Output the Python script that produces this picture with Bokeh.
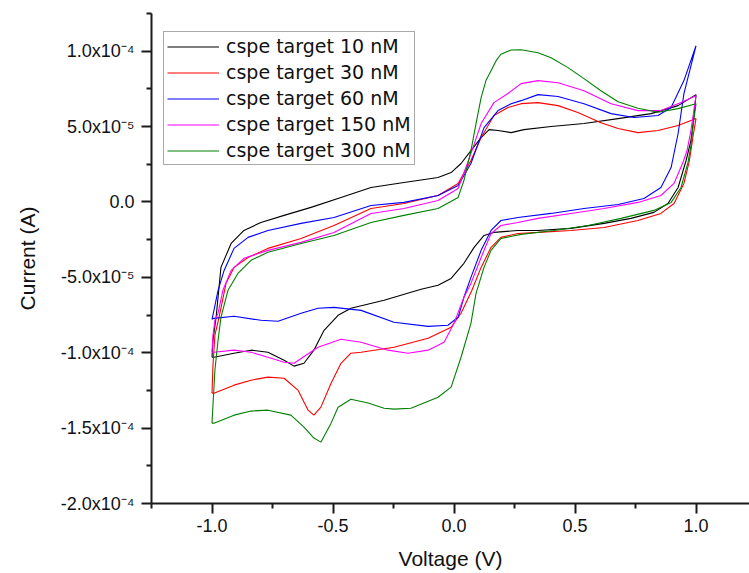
import numpy as np
from bokeh.plotting import figure
from bokeh.models import FixedTicker, Legend, LegendItem, Range1d
from bokeh.embed import file_html
from bokeh.resources import INLINE

# Current values are read in units of 1e-5 A
UNIT = 1e-5

labels = ["cspe target 10 nM", "cspe target 30 nM", "cspe target 60 nM",
          "cspe target 150 nM", "cspe target 300 nM"]
colors = ["#000000", "#FF0000", "#0000FF", "#FF00FF", "#008000"]

# 10 nM
v10_fwd = [-1.0, -0.996, -0.983, -0.963, -0.921, -0.868, -0.798, -0.702, -0.591, -0.467, -0.343, -0.207, -0.066, -0.012,
           0.029, 0.070, 0.112, 0.145, 0.182, 0.236, 0.289, 0.401, 0.537, 0.678, 0.814, 0.926, 1.0]
i10_fwd = [-10.30, -9.17, -7.65, -4.34, -2.75, -1.89, -1.36, -0.89, -0.36, 0.30, 0.96, 1.29, 1.62, 1.95,
           2.55, 3.41, 4.27, 4.80, 4.74, 4.60, 4.80, 5.00, 5.20, 5.53, 5.86, 6.39, 7.12]
v10_rev = [1.0, 0.992, 0.979, 0.959, 0.926, 0.884, 0.826, 0.731, 0.620, 0.483, 0.347, 0.264, 0.165, 0.124, 0.083, 0.041,
           -0.012, -0.066, -0.136, -0.289, -0.426, -0.479, -0.537, -0.579, -0.620, -0.661, -0.702, -0.769, -0.839,
           -0.909, -0.992, -1.0]
i10_rev = [7.12, 5.73, 4.07, 2.75, 0.96, -0.10, -0.69, -1.09, -1.42, -1.75, -1.89, -1.89, -2.02, -2.22, -3.01, -4.07,
           -5.07, -5.53, -5.79, -6.52, -7.05, -7.52, -8.51, -9.83, -10.70, -10.89, -10.50, -9.97, -9.83,
           -10.03, -10.30, -10.30]

# 30 nM
v30_fwd = [-1.0, -0.996, -0.988, -0.971, -0.942, -0.909, -0.851, -0.769, -0.632, -0.496, -0.343, -0.207, -0.066, 0.017,
           0.070, 0.112, 0.165, 0.223, 0.277, 0.347, 0.430, 0.512, 0.607, 0.678, 0.760, 0.843, 0.926, 1.0]
i30_fwd = [-12.68, -10.83, -8.84, -7.65, -5.40, -4.34, -3.68, -3.08, -2.42, -1.56, -0.43, -0.10, 0.43, 1.23,
           2.75, 4.27, 5.73, 6.26, 6.52, 6.59, 6.39, 5.93, 5.26, 4.87, 4.60, 4.74, 5.07, 5.53]
v30_rev = [1.0, 0.988, 0.979, 0.971, 0.950, 0.909, 0.855, 0.760, 0.620, 0.483, 0.347, 0.264, 0.194, 0.153, 0.112, 0.074,
           0.029, -0.012, -0.107, -0.248, -0.384, -0.426, -0.467, -0.508, -0.550, -0.579, -0.603, -0.645, -0.702,
           -0.769, -0.839, -0.909, -0.992, -1.0]
i30_rev = [5.53, 4.40, 3.41, 2.62, 1.23, -0.10, -0.76, -1.23, -1.69, -1.89, -2.02, -2.09, -2.35, -3.01, -4.34, -5.86,
           -7.38, -8.31, -9.04, -9.64, -9.97, -10.03, -10.70, -12.02, -13.61, -14.14, -13.81, -12.48, -11.69,
           -11.62, -11.82, -12.15, -12.68, -12.68]

# 60 nM
v60_fwd = [-1.0, -0.992, -0.975, -0.950, -0.909, -0.851, -0.769, -0.632, -0.496, -0.343, -0.207, -0.066, 0.017, 0.070,
           0.124, 0.182, 0.236, 0.277, 0.347, 0.430, 0.537, 0.649, 0.744, 0.843, 0.897, 0.950, 1.0]
i60_fwd = [-7.78, -7.19, -5.86, -4.54, -3.08, -2.35, -1.89, -1.42, -1.03, -0.23, -0.03, 0.43, 1.09, 2.55,
           4.93, 6.06, 6.52, 6.72, 7.12, 6.99, 6.52, 5.86, 5.60, 5.73, 6.26, 8.05, 10.36]
v60_rev = [1.0, 0.950, 0.926, 0.897, 0.855, 0.785, 0.678, 0.537, 0.401, 0.264, 0.194, 0.153, 0.112, 0.070, 0.041, 0.017,
           -0.025, -0.107, -0.248, -0.384, -0.496, -0.562, -0.632, -0.727, -0.798, -0.909, -0.992, -1.0]
i60_rev = [10.36, 7.19, 4.54, 2.28, 0.96, 0.23, -0.17, -0.43, -0.76, -1.03, -1.23, -1.89, -3.21, -5.00, -6.32, -7.65,
           -8.18, -8.25, -7.98, -7.19, -6.99, -7.05, -7.38, -7.91, -7.85, -7.58, -7.72, -7.78]

# 150 nM
v150_fwd = [-1.0, -0.996, -0.988, -0.975, -0.955, -0.921, -0.868, -0.769, -0.632, -0.496, -0.343, -0.207, -0.066, 0.017,
            0.070, 0.112, 0.165, 0.223, 0.277, 0.347, 0.430, 0.537, 0.649, 0.760, 0.855, 0.938, 1.0]
i150_fwd = [-9.97, -8.84, -7.85, -7.38, -5.86, -4.54, -3.74, -3.21, -2.68, -2.02, -0.76, -0.43, 0.10, 0.89,
            3.21, 5.20, 6.59, 7.19, 7.85, 8.05, 7.91, 7.38, 6.52, 6.06, 6.06, 6.59, 7.05]
v150_rev = [1.0, 0.979, 0.963, 0.946, 0.909, 0.855, 0.760, 0.620, 0.483, 0.347, 0.264, 0.194, 0.153, 0.112, 0.070, 0.041,
            0.0, -0.041, -0.107, -0.190, -0.273, -0.384, -0.467, -0.562, -0.661, -0.702, -0.769, -0.839, -0.909,
            -0.992, -1.0]
i150_rev = [7.05, 4.74, 3.41, 2.62, 1.23, 0.43, -0.03, -0.43, -0.76, -1.09, -1.36, -1.56, -2.09, -3.68, -5.40, -6.32,
            -8.05, -9.30, -9.83, -10.03, -9.83, -9.30, -9.11, -9.64, -10.70, -10.63, -10.30, -9.97, -9.83,
            -9.97, -9.97]

# 300 nM
v300_fwd = [-1.0, -0.996, -0.988, -0.975, -0.963, -0.934, -0.893, -0.839, -0.769, -0.632, -0.496, -0.343, -0.207, -0.066,
            0.017, 0.041, 0.070, 0.091, 0.112, 0.132, 0.153, 0.174, 0.194, 0.236, 0.277, 0.347, 0.401, 0.471, 0.537,
            0.607, 0.678, 0.760, 0.843, 0.926, 1.0]
i300_fwd = [-14.67, -13.48, -11.16, -9.17, -7.65, -5.86, -4.74, -3.87, -3.34, -2.75, -2.22, -1.36, -0.89, -0.43,
            0.30, 1.42, 3.41, 5.20, 6.92, 8.05, 8.71, 9.37, 9.80, 10.08, 10.10, 9.90, 9.57, 8.91, 8.18,
            7.38, 6.65, 6.22, 5.95, 6.19, 6.52]
v300_rev = [1.0, 0.988, 0.979, 0.967, 0.938, 0.897, 0.826, 0.690, 0.554, 0.413, 0.277, 0.194, 0.153, 0.124, 0.091, 0.070,
            0.029, -0.012, -0.066, -0.178, -0.248, -0.289, -0.355, -0.426, -0.479, -0.508, -0.550, -0.579, -0.620,
            -0.674, -0.769, -0.839, -0.909, -0.992, -1.0]
i300_rev = [6.52, 5.07, 3.74, 2.62, 0.96, -0.03, -0.56, -1.09, -1.56, -1.89, -2.15, -2.42, -3.21, -4.34, -6.06, -8.05,
            -10.30, -12.28, -12.95, -13.68, -13.74, -13.68, -13.34, -13.08, -13.61, -14.67, -15.93, -15.66, -14.93,
            -14.14, -13.81, -13.87, -14.14, -14.67, -14.67]

x_ticks = [-1.0, -0.5, 0.0, 0.5, 1.0]
x_tick_labels = ["-1.0", "-0.5", "0.0", "0.5", "1.0"]
x_minor = [-1.25, -0.75, -0.25, 0.25, 0.75]
y_ticks = [-2.0e-4, -1.5e-4, -1.0e-4, -5.0e-5, 0.0, 5.0e-5, 1.0e-4]
y_tick_labels = ["-2.0x10\u207b\u2074", "-1.5x10\u207b\u2074", "-1.0x10\u207b\u2074", "-5.0x10\u207b\u2075",
                 "0.0", "5.0x10\u207b\u2075", "1.0x10\u207b\u2074"]
y_minor = [-1.75e-4, -1.25e-4, -7.5e-5, -2.5e-5, 2.5e-5, 7.5e-5, 1.25e-4]

series = [
    (v10_fwd + v10_rev, i10_fwd + i10_rev),
    (v30_fwd + v30_rev, i30_fwd + i30_rev),
    (v60_fwd + v60_rev, i60_fwd + i60_rev),
    (v150_fwd + v150_rev, i150_fwd + i150_rev),
    (v300_fwd + v300_rev, i300_fwd + i300_rev),
]

FONT = "Liberation Sans"

p = figure(width=749, height=573, output_backend="svg", toolbar_location=None,
           x_range=Range1d(-1.25, 1.221), y_range=Range1d(-2.0e-4, 1.25e-4),
           min_border_left=151, min_border_right=0, min_border_top=13, min_border_bottom=70)
p.grid.visible = False
p.outline_line_color = None

renderers = []
for (v, i), c in zip(series, colors):
    r = p.line(v, list(np.array(i) * UNIT), line_color=c, line_width=1.1)
    renderers.append(r)

xa = p.xaxis[0]
ya = p.yaxis[0]
xa.ticker = FixedTicker(ticks=x_ticks, minor_ticks=x_minor)
xa.major_label_overrides = dict(zip(x_ticks, x_tick_labels))
ya.ticker = FixedTicker(ticks=y_ticks, minor_ticks=y_minor)
ya.major_label_overrides = dict(zip(y_ticks, y_tick_labels))

for ax in (xa, ya):
    ax.axis_line_width = 2
    ax.axis_line_color = "#1a1a1a"
    ax.major_tick_line_width = 2
    ax.major_tick_line_color = "#1a1a1a"
    ax.minor_tick_line_width = 2
    ax.minor_tick_line_color = "#1a1a1a"
    ax.major_tick_in = 0
    ax.major_tick_out = 10
    ax.minor_tick_in = 0
    ax.minor_tick_out = 5
    ax.major_label_text_font = FONT
    ax.major_label_text_font_size = "18px"
    ax.major_label_text_color = "#111111"
    ax.axis_label_text_font = FONT
    ax.axis_label_text_font_size = "21px"
    ax.axis_label_text_font_style = "normal"
    ax.axis_label_text_color = "#111111"

xa.axis_label = "Voltage (V)"
xa.major_label_standoff = 5
xa.axis_label_standoff = 12
ya.axis_label = "Current (A)"
ya.major_label_standoff = 7
ya.axis_label_standoff = 19

legend = Legend(items=[LegendItem(label=l, renderers=[r]) for l, r in zip(labels, renderers)],
                location=(12, 338))
legend.border_line_color = "#555555"
legend.border_line_width = 1
legend.background_fill_color = "white"
legend.background_fill_alpha = 1
legend.padding = 3
legend.margin = 0
legend.spacing = 4
legend.glyph_width = 52
legend.glyph_height = 21
legend.label_height = 21
legend.label_standoff = 7
legend.label_text_font = "DejaVu Sans"
legend.label_text_font_size = "19px"
legend.label_text_color = "#111111"
p.add_layout(legend, "center")

open("out.html", "w").write(file_html(p, INLINE))
